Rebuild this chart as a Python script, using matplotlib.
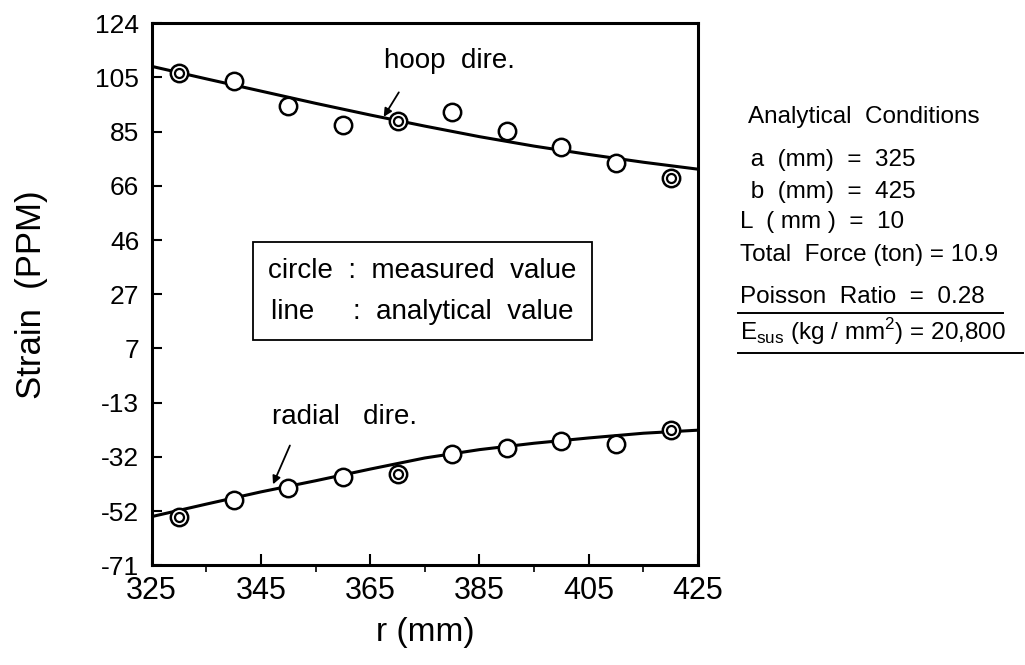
import numpy as np
import matplotlib
matplotlib.use("Agg")
import matplotlib.pyplot as plt
from matplotlib.lines import Line2D

# measured values (circles), r in mm, strain in PPM
rMeasured = [330, 340, 350, 360, 370, 380, 390, 400, 410, 420]
hoopMeasured = [106.0, 103.1, 94.1, 87.3, 88.7, 92.0, 85.1, 79.4, 73.6, 68.2]
radialMeasured = [-53.7, -47.6, -43.3, -39.3, -38.3, -31.1, -28.9, -26.4, -27.5, -22.4]
doubleCircleR = [330, 370, 420]

# analytical values (lines)
rLine = [325, 335, 345, 355, 365, 375, 385, 395, 405, 415, 425]
hoopLine = [108.5, 104.0, 99.6, 95.2, 91.0, 87.0, 83.2, 79.8, 76.8, 74.0, 71.5]
radialLine = [-53.5, -49.0, -44.6, -40.6, -36.4, -32.4, -29.4, -27.1, -25.2, -23.5, -22.4]

xTicks = [325, 345, 365, 385, 405, 425]
yTickLabels = ["124", "105", "85", "66", "46", "27", "7", "-13", "-32", "-52", "-71"]
yMin, yMax = -71, 124

conditionLines = [
    "Analytical  Conditions",
    " a  (mm)  =  325",
    " b  (mm)  =  425",
    "L  ( mm )  =  10",
    "Total  Force (ton) = 10.9",
    "Poisson  Ratio  =  0.28",
    r"E$_{\mathregular{sus}}$ (kg / mm$^{\mathregular{2}}$) = 20,800",
]

plt.rcParams["font.family"] = ["Liberation Sans", "DejaVu Sans"]
plt.rcParams["mathtext.fontset"] = "custom"
plt.rcParams["mathtext.rm"] = "Liberation Sans"

fig = plt.figure(figsize=(10.25, 6.65), dpi=100)
ax = fig.add_axes([0.148, 0.150, 0.533, 0.815])

ax.plot(rLine, hoopLine, color="black", linewidth=2.2, zorder=2)
ax.plot(rLine, radialLine, color="black", linewidth=2.2, zorder=2)

for series in (hoopMeasured, radialMeasured):
    ax.plot(rMeasured, series, linestyle="none", marker="o", markersize=12.5,
            markerfacecolor="white", markeredgecolor="black", markeredgewidth=1.8, zorder=3)
    innerY = [v for r, v in zip(rMeasured, series) if r in doubleCircleR]
    ax.plot(doubleCircleR, innerY, linestyle="none", marker="o", markersize=6.5,
            markerfacecolor="white", markeredgecolor="black", markeredgewidth=1.6, zorder=4)

ax.set_xlim(325, 425)
ax.set_ylim(yMin, yMax)
ax.set_xticks(xTicks)
ax.set_xticks(np.arange(335, 425, 10), minor=True)
ax.set_yticks(np.linspace(yMax, yMin, len(yTickLabels)))
ax.set_yticklabels(yTickLabels)
ax.tick_params(axis="both", direction="in", width=1.5, colors="black")
ax.tick_params(axis="x", which="major", length=8, labelsize=22, pad=8)
ax.tick_params(axis="x", which="minor", length=5, width=1.2)
ax.tick_params(axis="y", length=7, labelsize=19, pad=9)
for spine in ax.spines.values():
    spine.set_linewidth(2.2)

ax.set_xlabel("r (mm)", fontsize=24, labelpad=8)
ax.set_ylabel("Strain  (PPM)", fontsize=25, labelpad=34)

# legend box
ax.text(0.495, 0.506, "circle  :  measured  value\nline     :  analytical  value",
        transform=ax.transAxes, ha="center", va="center", fontsize=20, linespacing=1.75,
        bbox=dict(boxstyle="square,pad=0.55", facecolor="white", edgecolor="black", linewidth=1.3))

# direction labels with arrows
ax.annotate("", xy=(367.2, 89.5), xytext=(370.5, 100.0),
            arrowprops=dict(arrowstyle="-|>", color="black", linewidth=1.3, mutation_scale=12))
ax.text(367.5, 110.5, "hoop  dire.", fontsize=20, ha="left", va="center")
ax.annotate("", xy=(347.0, -42.8), xytext=(350.5, -27.0),
            arrowprops=dict(arrowstyle="-|>", color="black", linewidth=1.3, mutation_scale=12))
ax.text(347.0, -17.5, "radial   dire.", fontsize=20, ha="left", va="center")

# analytical conditions block
textY = [117, 160, 192, 222, 255, 297, 332]
textX = [748, 744, 744, 740, 740, 740, 740]
for line, tx, ty in zip(conditionLines, textX, textY):
    fig.text(tx / 1025, 1 - ty / 665, line, fontsize=17.5, ha="left", va="center")
fig.add_artist(Line2D([738 / 1025, 1003 / 1025], [1 - 313 / 665, 1 - 313 / 665],
                      color="black", linewidth=1.4))
fig.add_artist(Line2D([738 / 1025, 1023 / 1025], [1 - 353 / 665, 1 - 353 / 665],
                      color="black", linewidth=1.4))

fig.savefig("out.png", dpi=100, facecolor="white")
